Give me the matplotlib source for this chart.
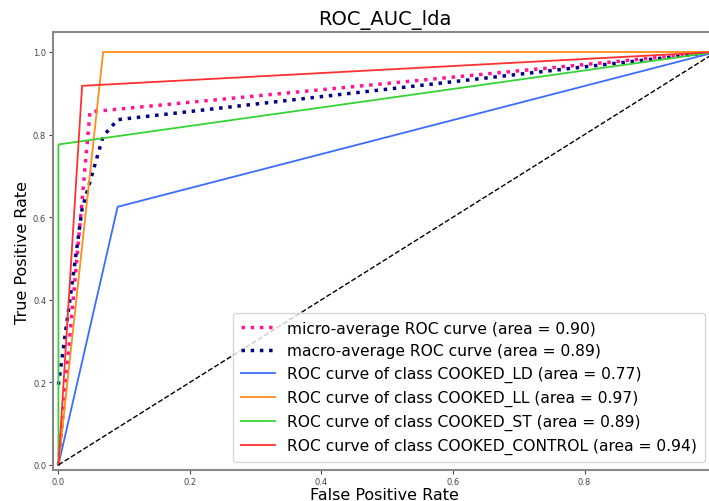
import numpy as np
import matplotlib.pyplot as plt

# ROC points
micro_fpr = [0.0, 0.048, 1.0]
micro_tpr = [0.0, 0.855, 1.0]
macro_fpr = [0.0, 0.036, 0.068, 0.09, 1.0]
macro_tpr = [0.194, 0.62, 0.796, 0.836, 1.0]

class_names = ["COOKED_LD", "COOKED_LL", "COOKED_ST", "COOKED_CONTROL"]
class_fpr = [[0.0, 0.09, 1.0], [0.0, 0.068, 1.0], [0.0, 0.0, 1.0], [0.0, 0.036, 1.0]]
class_tpr = [[0.0, 0.625, 1.0], [0.0, 1.0, 1.0], [0.0, 0.776, 1.0], [0.0, 0.918, 1.0]]
class_auc = [0.77, 0.97, 0.89, 0.94]
micro_auc = 0.90
macro_auc = 0.89
colors = ['#3a6cff', '#ff8c1a', '#35d435', '#ff3030']
xticks = [0.0, 0.2, 0.4, 0.6, 0.8]

fig = plt.figure(figsize=(7.09, 5.02), dpi=100)
ax = fig.add_axes([0.075, 0.062, 0.935, 0.872])

ax.plot(micro_fpr, micro_tpr, color='deeppink', linestyle=':', linewidth=2.5,
        label='micro-average ROC curve (area = {0:0.2f})'.format(micro_auc))
ax.plot(macro_fpr, macro_tpr, color='navy', linestyle=':', linewidth=2.5,
        label='macro-average ROC curve (area = {0:0.2f})'.format(macro_auc))
for i in range(len(class_names)):
    ax.plot(class_fpr[i], class_tpr[i], color=colors[i], lw=1.3,
            label='ROC curve of class {0} (area = {1:0.2f})'.format(class_names[i], class_auc[i]))
ax.plot([0, 1], [0, 1], 'k--', lw=1)

ax.set_xlim(-0.008, 1.0)
ax.set_ylim(-0.012, 1.048)
ax.set_xticks(xticks)
ax.tick_params(labelsize=6, colors='#444444', length=3, pad=2)
for s in ax.spines.values():
    s.set_color('#888888')
    s.set_linewidth(1.5)
ax.set_xlabel('False Positive Rate', fontsize=11.5, labelpad=1)
ax.set_ylabel('True Positive Rate', fontsize=11.5, labelpad=2)
ax.set_title('ROC_AUC_lda', fontsize=14, pad=6)
ax.legend(loc='lower right', fontsize=11.2, handlelength=2.2, borderpad=0.5,
          labelspacing=0.5, bbox_to_anchor=(0.995, 0.0))

plt.savefig('out.png', dpi=100)
